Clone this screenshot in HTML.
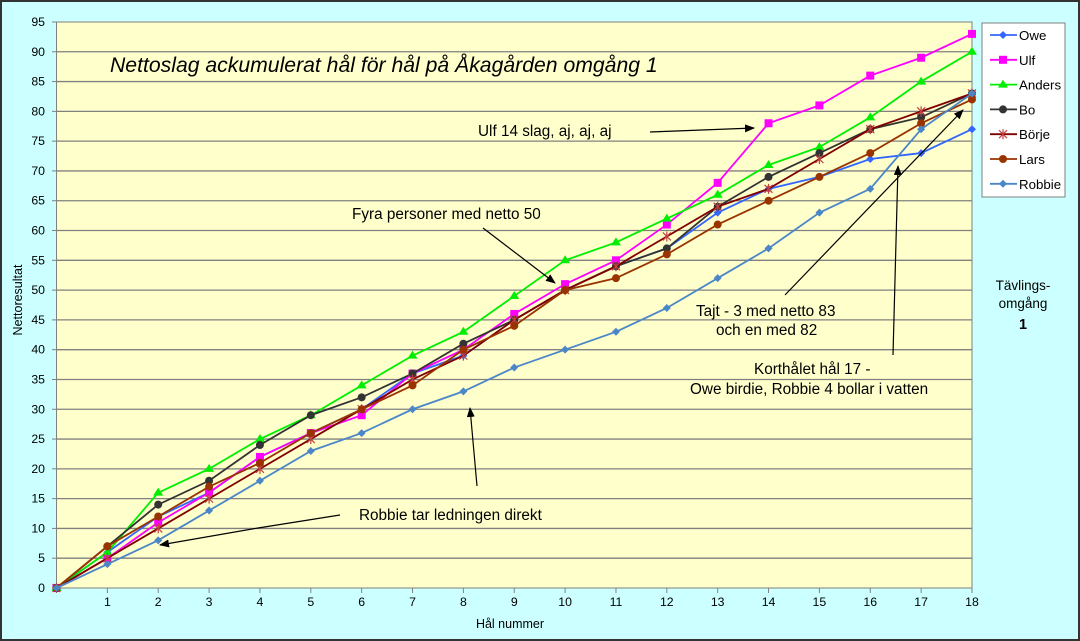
<!DOCTYPE html>
<html><head><meta charset="utf-8"><style>
html,body{margin:0;padding:0;background:#CCFFFF}
svg{display:block}
text{font-family:"Liberation Sans",sans-serif;fill:#000}
</style></head><body>
<svg id="c" width="1080" height="641" xmlns="http://www.w3.org/2000/svg">
<rect x="1" y="1" width="1078" height="639" fill="#CCFFFF" stroke="#333" stroke-width="2"/>
<rect x="56.5" y="22" width="915.5" height="566" fill="#FFFFCC" stroke="#808080" stroke-width="1"/>
<g id="grid"></g>
<g id="series"></g>
<text x="110" y="72" font-size="21.2" font-style="italic">Nettoslag ackumulerat hål för hål på Åkagården omgång 1</text>
<text x="478" y="136" font-size="15.3">Ulf 14 slag, aj, aj, aj</text>
<text x="352" y="219" font-size="15.3">Fyra personer med netto 50</text>
<text x="696" y="316" font-size="15.3">Tajt - 3 med netto 83</text>
<text x="716" y="335" font-size="15.3">och en med 82</text>
<text x="754" y="374" font-size="15.3">Korthålet hål 17 -</text>
<text x="690" y="394" font-size="15.3">Owe birdie, Robbie 4 bollar i vatten</text>
<text x="359" y="520" font-size="15.3">Robbie tar ledningen direkt</text>
<text x="1023" y="290" font-size="13.5" text-anchor="middle">Tävlings-</text>
<text x="1023" y="308" font-size="13.5" text-anchor="middle">omgång</text>
<text x="1023" y="329" font-size="14.5" font-weight="bold" text-anchor="middle">1</text>
<text x="510" y="628" font-size="12.5" text-anchor="middle">Hål nummer</text>
<text transform="translate(22,300) rotate(-90)" font-size="12.5" text-anchor="middle">Nettoresultat</text>
<defs><marker id="ah" markerWidth="10" markerHeight="8" refX="9" refY="4" orient="auto" markerUnits="userSpaceOnUse"><path d="M0,0 L10,4 L0,8 z" fill="#000"/></marker></defs>
<g stroke="#000" stroke-width="1.2" fill="none">
<line x1="650" y1="132" x2="754" y2="128" marker-end="url(#ah)"/>
<line x1="483" y1="228" x2="555" y2="283" marker-end="url(#ah)"/>
<line x1="785" y1="295" x2="963" y2="110" marker-end="url(#ah)"/>
<line x1="893" y1="355" x2="898" y2="166" marker-end="url(#ah)"/>
<line x1="477" y1="486" x2="470" y2="408" marker-end="url(#ah)"/>
<polyline points="340,515 258,528 160,545" marker-end="url(#ah)"/>
</g>
<rect x="982" y="23" width="83" height="174" fill="#fff" stroke="#808080"/>
<g id="legend"></g>
</svg>
<script>
var NS="http://www.w3.org/2000/svg";
function el(t,a,p){var e=document.createElementNS(NS,t);for(var k in a)e.setAttribute(k,a[k]);(p||document.getElementById('c')).appendChild(e);return e;}
var X=function(i){return 56.5+i*50.86},Y=function(v){return 588-v*5.958};
var g=document.getElementById('grid');
for(var v=5;v<=90;v+=5)el('line',{x1:56.5,x2:972,y1:Y(v),y2:Y(v),stroke:'#808080','stroke-width':1.3},g);
for(var v=0;v<=95;v+=5){el('line',{x1:52,x2:56.5,y1:Y(v),y2:Y(v),stroke:'#808080'},g);var t=el('text',{x:45,y:Y(v)+4,'font-size':12.3,'text-anchor':'end'},g);t.textContent=v;}
for(var i=0;i<=18;i++){el('line',{x1:X(i),x2:X(i),y1:588,y2:593,stroke:'#808080'},g);if(i>0){var t=el('text',{x:X(i),y:606,'font-size':12.3,'text-anchor':'middle'},g);t.textContent=i;}}
var S=[
["Owe","#3366FF","d",[0,6,12,16,22,26,30,36,39,45,50,54,57,63,67,69,72,73,77]],
["Ulf","#FF00FF","s",[0,5,11,16,22,26,29,36,40,46,51,55,61,68,78,81,86,89,93]],
["Anders","#00EE00","t",[0,6,16,20,25,29,34,39,43,49,55,58,62,66,71,74,79,85,90]],
["Bo","#333333","c",[0,7,14,18,24,29,32,36,41,45,50,54,57,64,69,73,77,79,83]],
["Börje","#800000","x",[0,5,10,15,20,25,30,35,39,45,50,54,59,64,67,72,77,80,83]],
["Lars","#993300","c",[0,7,12,17,21,26,30,34,40,44,50,52,56,61,65,69,73,78,82]],
["Robbie","#4A86C8","d",[0,4,8,13,18,23,26,30,33,37,40,43,47,52,57,63,67,77,83]]];
function mk(p,k,c,x,y){
 if(k=="d")el('path',{d:'M'+x+','+(y-4)+'l4,4l-4,4l-4,-4z',fill:c},p);
 else if(k=="s")el('rect',{x:x-4,y:y-4,width:8,height:8,fill:c},p);
 else if(k=="t")el('path',{d:'M'+x+','+(y-5)+'l5,8h-10z',fill:c},p);
 else if(k=="c")el('circle',{cx:x,cy:y,r:4,fill:c},p);
 else if(k=="x"){el('path',{d:'M'+(x-4)+','+(y-4)+'l8,8M'+(x+4)+','+(y-4)+'l-8,8M'+x+','+(y-5)+'v10',stroke:'#C04040','stroke-width':1.2},p);}
}
var sg=document.getElementById('series'),lg=document.getElementById('legend');
S.forEach(function(s,j){
 var pts=s[3].map(function(v,i){return X(i)+','+Y(v)}).join(' ');
 el('polyline',{points:pts,fill:'none',stroke:s[1],'stroke-width':1.8},sg);
 s[3].forEach(function(v,i){mk(sg,s[2],s[1],X(i),Y(v));});
 var ly=35+j*24.8;
 el('line',{x1:990,x2:1017,y1:ly,y2:ly,stroke:s[1],'stroke-width':1.8},lg);
 mk(lg,s[2],s[1],1003,ly);
 var t=el('text',{x:1019,y:ly+5,'font-size':13.3},lg);t.textContent=s[0];
});
</script>
</body></html>
